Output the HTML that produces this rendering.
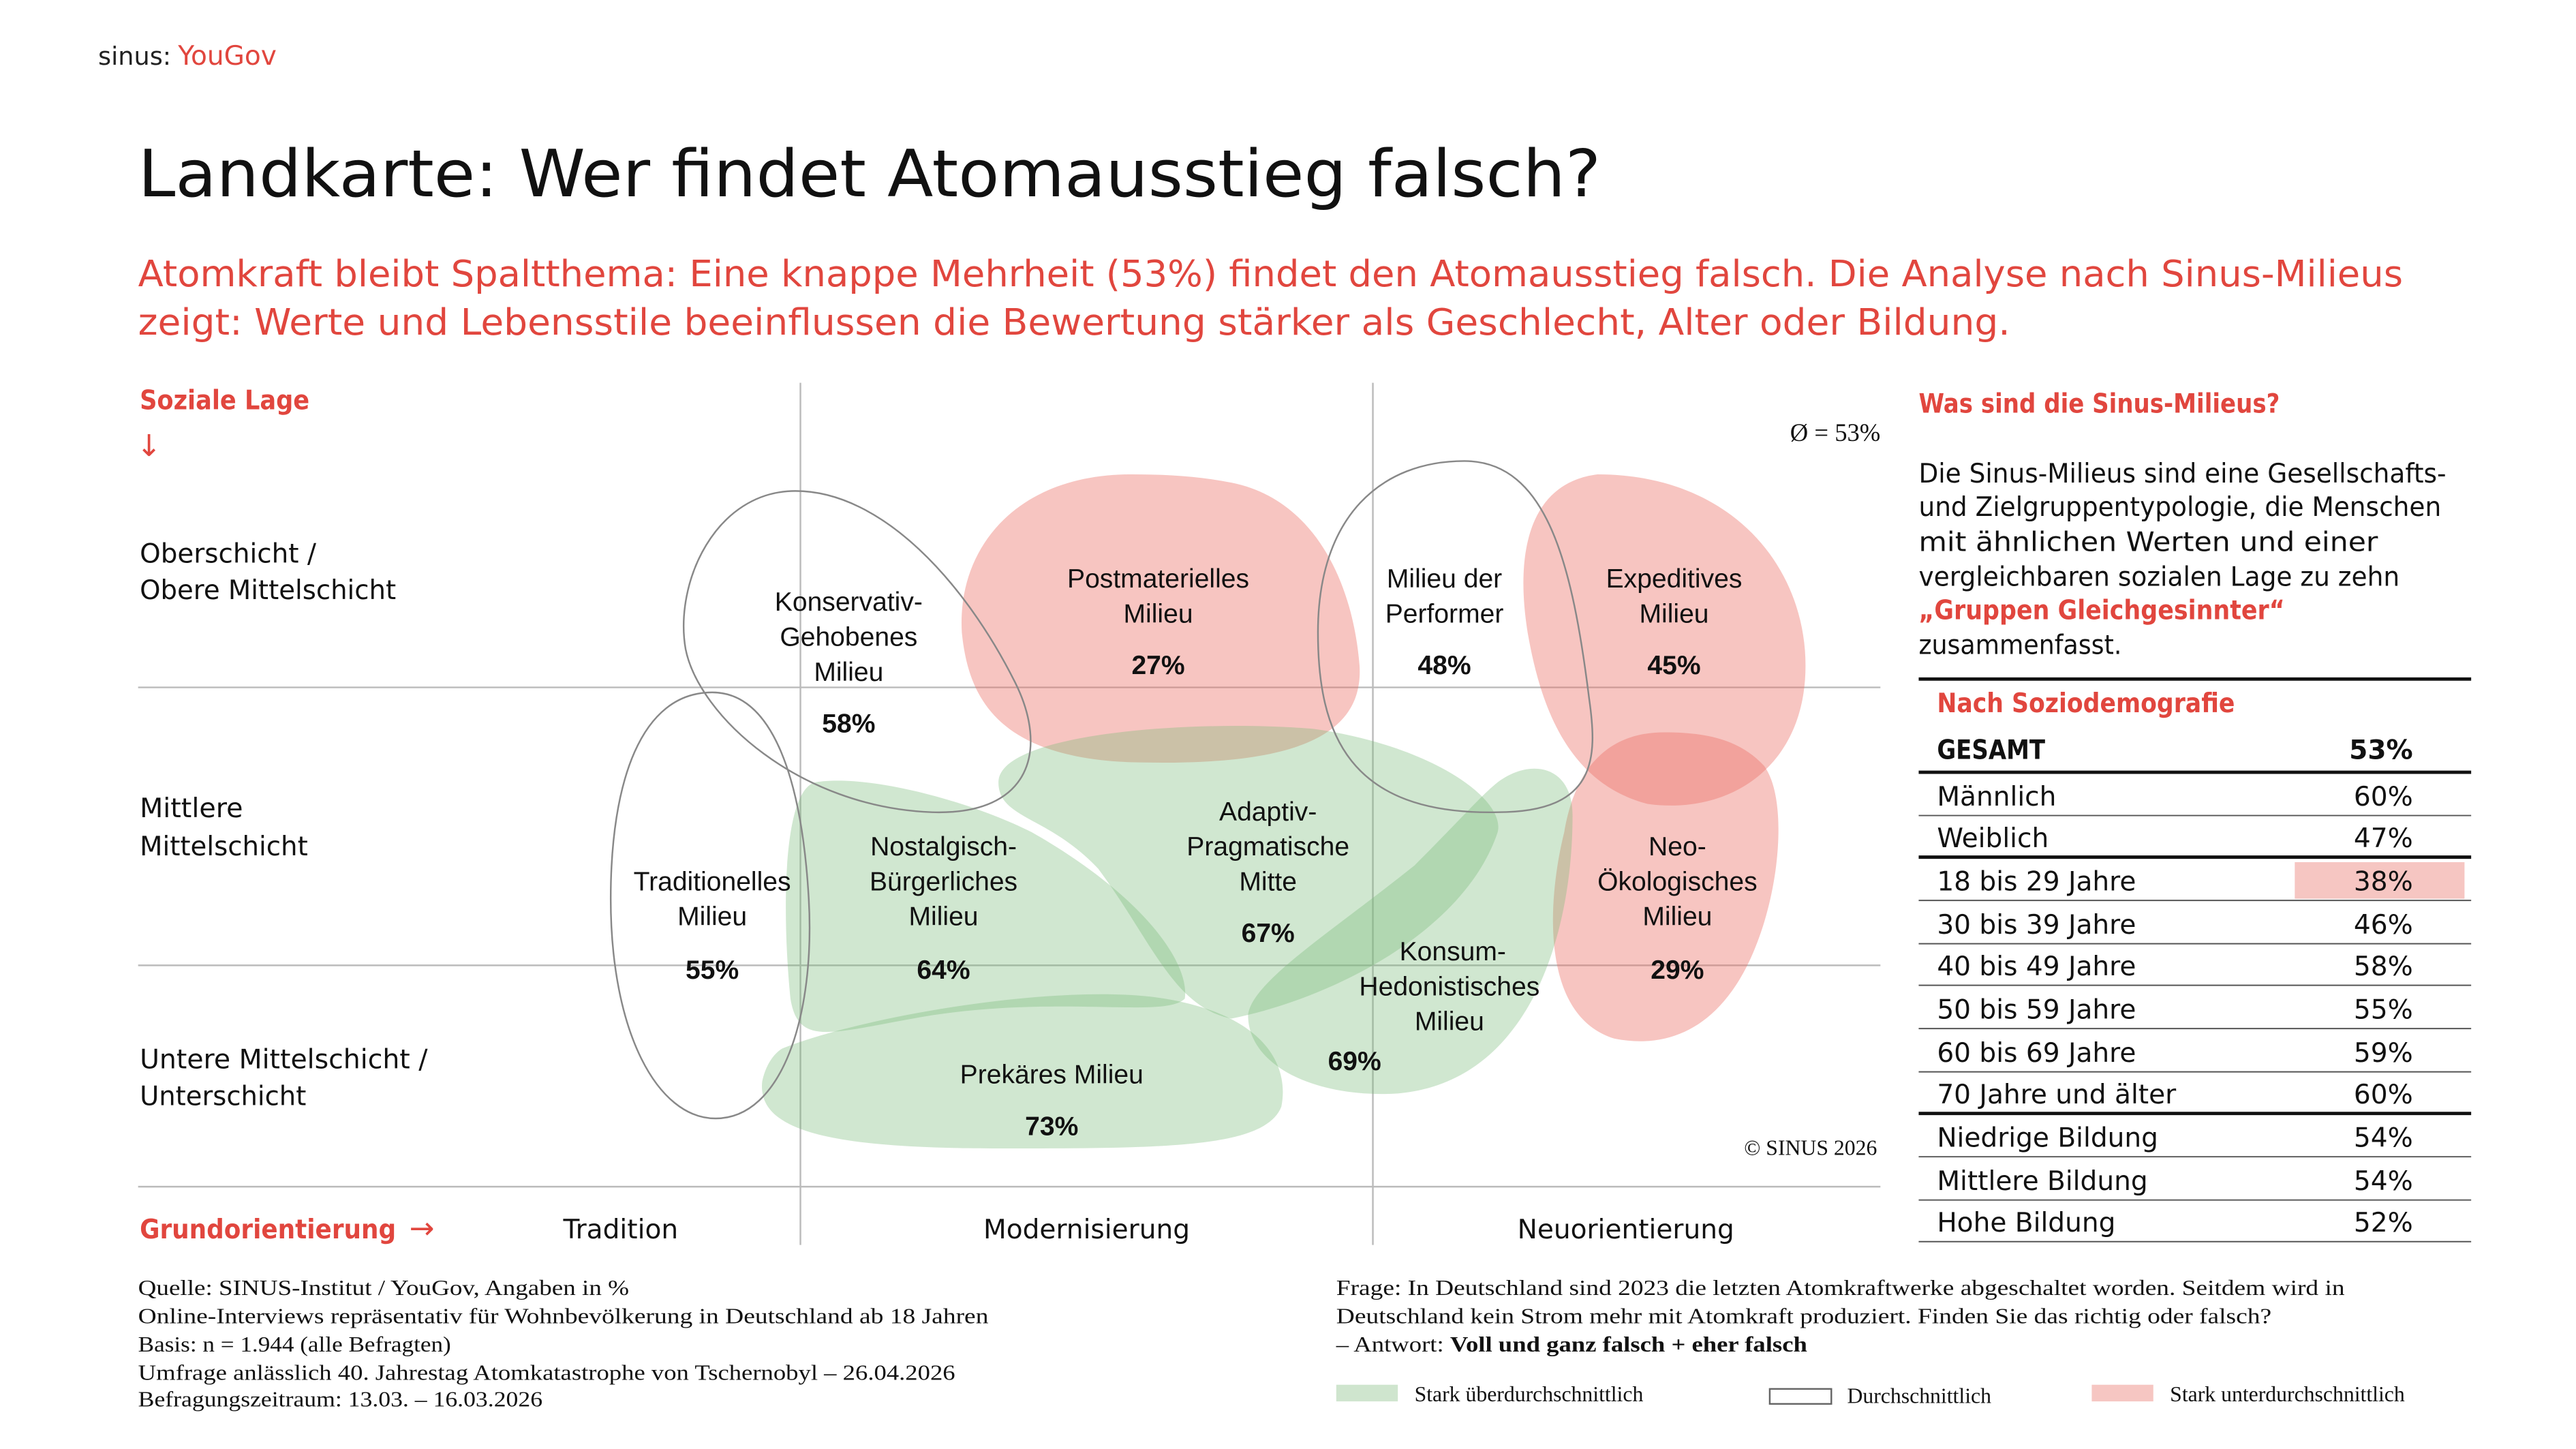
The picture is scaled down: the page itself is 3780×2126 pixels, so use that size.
<!DOCTYPE html>
<html><head><meta charset="utf-8"><style>
html,body{margin:0;padding:0;background:#fff;}
svg{display:block;}
.s{font-family:"DejaVu Sans","Liberation Sans",sans-serif;}
.n{font-family:"Liberation Sans Narrow","Liberation Sans",sans-serif;}
.f{font-family:"Liberation Serif",serif;}
</style></head><body>
<svg width="3780" height="2126" viewBox="0 0 1548 870.6" preserveAspectRatio="none" xmlns="http://www.w3.org/2000/svg">
<rect width="1548" height="871" fill="#fff"/>
<!-- logo -->
<text x="59" y="39" class="s" font-size="15" fill="#222">sinus:</text>
<text x="107" y="39" class="s" font-size="16" fill="#e1463e">YouGov</text>
<!-- title -->
<text x="83" y="118" class="s" font-size="39" fill="#111" textLength="879" lengthAdjust="spacingAndGlyphs">Landkarte: Wer findet Atomausstieg falsch?</text>
<text x="83" y="172" class="s" font-size="22" fill="#e1463e" textLength="1361" lengthAdjust="spacingAndGlyphs">Atomkraft bleibt Spaltthema: Eine knappe Mehrheit (53%) findet den Atomausstieg falsch. Die Analyse nach Sinus-Milieus</text>
<text x="83" y="201" class="s" font-size="22" fill="#e1463e" textLength="1125" lengthAdjust="spacingAndGlyphs">zeigt: Werte und Lebensstile beeinflussen die Bewertung stärker als Geschlecht, Alter oder Bildung.</text>
<!-- grid -->
<g stroke="#bbb" stroke-width="1">
<line x1="83" y1="413" x2="1130" y2="413"/>
<line x1="83" y1="580" x2="1130" y2="580"/>
<line x1="83" y1="713" x2="1130" y2="713"/>
<line x1="481" y1="230" x2="481" y2="748"/>
<line x1="825" y1="230" x2="825" y2="748"/>
</g>
<text x="84" y="246" class="s" font-size="16" font-weight="bold" fill="#e1463e" textLength="102" lengthAdjust="spacingAndGlyphs">Soziale Lage</text>
<text x="82" y="274" class="s" font-size="18" fill="#e1463e">↓</text>
<g class="s" font-size="16" fill="#111">
<text x="84" y="338" textLength="106" lengthAdjust="spacingAndGlyphs">Oberschicht /</text>
<text x="84" y="360" textLength="154" lengthAdjust="spacingAndGlyphs">Obere Mittelschicht</text>
<text x="84" y="491" textLength="62" lengthAdjust="spacingAndGlyphs">Mittlere</text>
<text x="84" y="514" textLength="101" lengthAdjust="spacingAndGlyphs">Mittelschicht</text>
<text x="84" y="642" textLength="173" lengthAdjust="spacingAndGlyphs">Untere Mittelschicht /</text>
<text x="84" y="664" textLength="100" lengthAdjust="spacingAndGlyphs">Unterschicht</text>
<text x="373" y="744" text-anchor="middle">Tradition</text>
<text x="653" y="744" text-anchor="middle">Modernisierung</text>
<text x="977" y="744" text-anchor="middle">Neuorientierung</text>
</g>
<text x="84" y="744" class="s" font-size="16" font-weight="bold" fill="#e1463e" textLength="154" lengthAdjust="spacingAndGlyphs">Grundorientierung</text>
<text x="246" y="744" class="s" font-size="18" fill="#e1463e">→</text>
<text x="1130" y="265" class="f" font-size="15" text-anchor="end" fill="#111">Ø = 53%</text>
<text x="1128" y="694" class="f" font-size="13" text-anchor="end" fill="#111">© SINUS 2026</text>
<!-- blobs -->
<g fill="rgb(235,110,100)" fill-opacity="0.4">
<path d="M680,285 C610,285 575,330 578,380 C582,420 600,455 680,458 C760,460 820,450 817,400 C813,350 790,300 740,290 C720,286 700,285 680,285 Z"/>
<path d="M960,285 C920,290 910,330 918,380 C925,420 940,470 990,483 C1040,490 1085,460 1085,400 C1085,340 1040,285 960,285 Z"/>
<path d="M1000,440 C960,440 945,470 940,500 C930,540 925,610 970,624 C1000,630 1030,620 1050,580 C1070,540 1075,480 1060,460 C1045,444 1025,440 1000,440 Z"/>
</g>
<g fill="rgb(120,185,120)" fill-opacity="0.35">
<path d="M600,470 C600,440 720,432 790,438 C860,448 905,480 900,500 C880,560 800,600 740,612 C705,605 692,565 660,522 C630,490 600,492 600,470 Z"/>
<path d="M490,470 C520,465 580,480 620,500 C690,540 715,580 712,600 C700,612 640,598 560,610 C500,620 480,630 475,600 C470,550 470,475 490,470 Z"/>
<path d="M470,630 C520,610 640,590 700,600 C760,610 775,640 770,665 C760,690 700,690 600,690 C500,690 455,680 458,650 C460,640 465,633 470,630 Z"/>
<path d="M900,470 C920,455 945,460 945,490 C945,560 920,650 840,657 C790,660 750,640 750,610 C752,590 800,560 850,520 C880,490 890,478 900,470 Z"/>
</g>
<g fill="none" stroke="#888" stroke-width="1">
<path d="M478,295 C430,295 405,350 412,390 C420,430 480,485 560,488 C620,490 630,450 610,410 C580,350 530,295 478,295 Z"/>
<path d="M428,416 C385,416 367,470 367,540 C367,620 395,672 430,672 C470,672 490,610 486,540 C482,470 465,416 428,416 Z"/>
<path d="M880,277 C830,277 792,310 792,380 C792,440 810,490 900,488 C960,488 960,455 955,420 C945,340 930,277 880,277 Z"/>
</g>
<!-- labels -->
<g class="n" font-size="16" fill="#111" text-anchor="middle">
<text x="510" y="367">Konservativ-</text><text x="510" y="388">Gehobenes</text><text x="510" y="409">Milieu</text><text x="510" y="440" font-weight="bold">58%</text>
<text x="696" y="353">Postmaterielles</text><text x="696" y="374">Milieu</text><text x="696" y="405" font-weight="bold">27%</text>
<text x="868" y="353">Milieu der</text><text x="868" y="374">Performer</text><text x="868" y="405" font-weight="bold">48%</text>
<text x="1006" y="353">Expeditives</text><text x="1006" y="374">Milieu</text><text x="1006" y="405" font-weight="bold">45%</text>
<text x="428" y="535">Traditionelles</text><text x="428" y="556">Milieu</text><text x="428" y="588" font-weight="bold">55%</text>
<text x="567" y="514">Nostalgisch-</text><text x="567" y="535">Bürgerliches</text><text x="567" y="556">Milieu</text><text x="567" y="588" font-weight="bold">64%</text>
<text x="762" y="493">Adaptiv-</text><text x="762" y="514">Pragmatische</text><text x="762" y="535">Mitte</text><text x="762" y="566" font-weight="bold">67%</text>
<text x="1008" y="514">Neo-</text><text x="1008" y="535">Ökologisches</text><text x="1008" y="556">Milieu</text><text x="1008" y="588" font-weight="bold">29%</text>
<text x="873" y="577">Konsum-</text><text x="871" y="598">Hedonistisches</text><text x="871" y="619">Milieu</text><text x="814" y="643" font-weight="bold">69%</text>
<text x="632" y="651">Prekäres Milieu</text><text x="632" y="682" font-weight="bold">73%</text>
</g>
<!-- right panel -->
<text x="1153" y="248" class="s" font-size="16" font-weight="bold" fill="#e1463e" textLength="217" lengthAdjust="spacingAndGlyphs">Was sind die Sinus-Milieus?</text>
<g class="s" font-size="16" fill="#111">
<text x="1153" y="290" textLength="317" lengthAdjust="spacingAndGlyphs">Die Sinus-Milieus sind eine Gesellschafts-</text>
<text x="1153" y="310" textLength="314" lengthAdjust="spacingAndGlyphs">und Zielgruppentypologie, die Menschen</text>
<text x="1153" y="331" textLength="276" lengthAdjust="spacingAndGlyphs">mit ähnlichen Werten und einer</text>
<text x="1153" y="352" textLength="289" lengthAdjust="spacingAndGlyphs">vergleichbaren sozialen Lage zu zehn</text>
<text x="1153" y="372" fill="#e1463e" font-weight="bold" textLength="220" lengthAdjust="spacingAndGlyphs">„Gruppen Gleichgesinnter“</text>
<text x="1153" y="393" textLength="122" lengthAdjust="spacingAndGlyphs">zusammenfasst.</text>
</g>
<rect x="1379" y="518" width="102" height="22" fill="#f6c6c2"/>
<g stroke="#111">
<line x1="1153" y1="408" x2="1485" y2="408" stroke-width="2"/>
<line x1="1153" y1="464" x2="1485" y2="464" stroke-width="2"/>
<line x1="1153" y1="490" x2="1485" y2="490" stroke-width="0.8" stroke="#555"/>
<line x1="1153" y1="515" x2="1485" y2="515" stroke-width="2"/>
<line x1="1153" y1="541" x2="1485" y2="541" stroke-width="0.8" stroke="#555"/>
<line x1="1153" y1="567" x2="1485" y2="567" stroke-width="0.8" stroke="#555"/>
<line x1="1153" y1="592" x2="1485" y2="592" stroke-width="0.8" stroke="#555"/>
<line x1="1153" y1="618" x2="1485" y2="618" stroke-width="0.8" stroke="#555"/>
<line x1="1153" y1="644" x2="1485" y2="644" stroke-width="0.8" stroke="#555"/>
<line x1="1153" y1="669" x2="1485" y2="669" stroke-width="2"/>
<line x1="1153" y1="695" x2="1485" y2="695" stroke-width="0.8" stroke="#555"/>
<line x1="1153" y1="721" x2="1485" y2="721" stroke-width="0.8" stroke="#555"/>
<line x1="1153" y1="746" x2="1485" y2="746" stroke-width="0.8" stroke="#555"/>
</g>
<text x="1164" y="428" class="s" font-size="16" font-weight="bold" fill="#e1463e" textLength="179" lengthAdjust="spacingAndGlyphs">Nach Soziodemografie</text>
<g class="s" font-size="16" fill="#111">
<text x="1164" y="456" font-weight="bold" textLength="65" lengthAdjust="spacingAndGlyphs">GESAMT</text>
<text x="1450" y="456" font-weight="bold" text-anchor="end">53%</text>
<text x="1164" y="484">Männlich</text><text x="1450" y="484" text-anchor="end">60%</text>
<text x="1164" y="509">Weiblich</text><text x="1450" y="509" text-anchor="end">47%</text>
<text x="1164" y="535">18 bis 29 Jahre</text><text x="1450" y="535" text-anchor="end">38%</text>
<text x="1164" y="561">30 bis 39 Jahre</text><text x="1450" y="561" text-anchor="end">46%</text>
<text x="1164" y="586">40 bis 49 Jahre</text><text x="1450" y="586" text-anchor="end">58%</text>
<text x="1164" y="612">50 bis 59 Jahre</text><text x="1450" y="612" text-anchor="end">55%</text>
<text x="1164" y="638">60 bis 69 Jahre</text><text x="1450" y="638" text-anchor="end">59%</text>
<text x="1164" y="663">70 Jahre und älter</text><text x="1450" y="663" text-anchor="end">60%</text>
<text x="1164" y="689">Niedrige Bildung</text><text x="1450" y="689" text-anchor="end">54%</text>
<text x="1164" y="715">Mittlere Bildung</text><text x="1450" y="715" text-anchor="end">54%</text>
<text x="1164" y="740">Hohe Bildung</text><text x="1450" y="740" text-anchor="end">52%</text>
</g>
<!-- footer -->
<g class="f" font-size="13" fill="#111">
<text x="83" y="778" textLength="295" lengthAdjust="spacingAndGlyphs">Quelle: SINUS-Institut / YouGov, Angaben in %</text>
<text x="83" y="795" textLength="511" lengthAdjust="spacingAndGlyphs">Online-Interviews repräsentativ für Wohnbevölkerung in Deutschland ab 18 Jahren</text>
<text x="83" y="812" textLength="188" lengthAdjust="spacingAndGlyphs">Basis: n = 1.944 (alle Befragten)</text>
<text x="83" y="829" textLength="491" lengthAdjust="spacingAndGlyphs">Umfrage anlässlich 40. Jahrestag Atomkatastrophe von Tschernobyl – 26.04.2026</text>
<text x="83" y="845" textLength="243" lengthAdjust="spacingAndGlyphs">Befragungszeitraum: 13.03. – 16.03.2026</text>
<text x="803" y="778" textLength="606" lengthAdjust="spacingAndGlyphs">Frage: In Deutschland sind 2023 die letzten Atomkraftwerke abgeschaltet worden. Seitdem wird in</text>
<text x="803" y="795" textLength="562" lengthAdjust="spacingAndGlyphs">Deutschland kein Strom mehr mit Atomkraft produziert. Finden Sie das richtig oder falsch?</text>
<text x="803" y="812" textLength="283" lengthAdjust="spacingAndGlyphs">– Antwort: <tspan font-weight="bold">Voll und ganz falsch + eher falsch</tspan></text>
<text x="850" y="842">Stark überdurchschnittlich</text>
<text x="1110" y="843">Durchschnittlich</text>
<text x="1304" y="842">Stark unterdurchschnittlich</text>
</g>
<rect x="803" y="832" width="37" height="10" fill="#cfe5ce"/>
<rect x="1063.5" y="834.5" width="37" height="9" fill="none" stroke="#666" stroke-width="1"/>
<rect x="1257" y="832" width="37" height="10" fill="#f6c6c2"/>
</svg>
</body></html>
